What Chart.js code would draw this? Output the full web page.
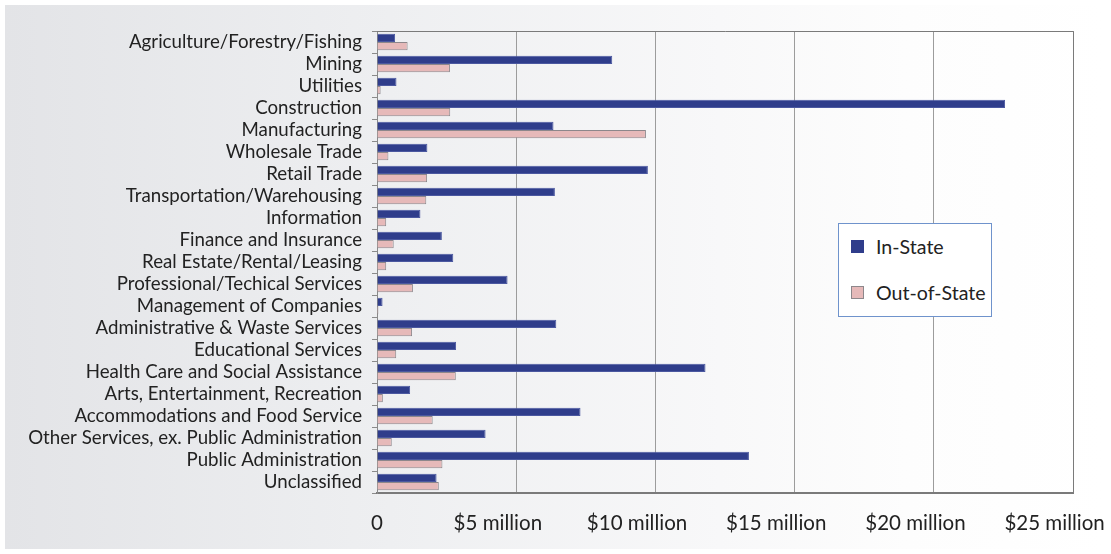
<!DOCTYPE html>
<html>
<head>
<meta charset="utf-8">
<script src="https://cdn.jsdelivr.net/npm/chart.js@4"></script>
<style>
  html, body { margin: 0; padding: 0; background: #fff; }
  #wrap { position: relative; width: 1111px; height: 554px; }
  #panel {
    position: absolute; left: 5px; top: 5px; width: 1100px; height: 544px;
    background: linear-gradient(to right, #e3e4e7 0%, #eeeff1 35%, #f8f8f9 65%, #fdfdfd 82%, #ffffff 100%);
  }
  canvas { position: absolute; left: 0; top: 0; }
  #legend {
    position: absolute; left: 838px; top: 223px; width: 154px; height: 94px;
    background: #fff; border: 1px solid #6f93cc; box-sizing: border-box;
    font-family: Lato, "Open Sans", sans-serif; font-size: 19.6px; color: #222;
  }
  #legend .item { position: absolute; left: 12px; display: flex; align-items: center; }
  #legend .sw { width: 13px; height: 13px; box-sizing: border-box; margin-right: 12px; }
</style>
</head>
<body>
<div id="wrap">
  <div id="panel"></div>
  <canvas id="barChart" width="1111" height="554"></canvas>
  <div id="legend"></div>
</div>
<script>
var industries = [
  'Agriculture/Forestry/Fishing',
  'Mining',
  'Utilities',
  'Construction',
  'Manufacturing',
  'Wholesale Trade',
  'Retail Trade',
  'Transportation/Warehousing',
  'Information',
  'Finance and Insurance',
  'Real Estate/Rental/Leasing',
  'Professional/Techical Services',
  'Management of Companies',
  'Administrative & Waste Services',
  'Educational Services',
  'Health Care and Social Assistance',
  'Arts, Entertainment, Recreation',
  'Accommodations and Food Service',
  'Other Services, ex. Public Administration',
  'Public Administration',
  'Unclassified'
];
// dollars, in millions
var inState = [0.65, 8.45, 0.70, 22.56, 6.34, 1.81, 9.73, 6.39, 1.56, 2.33, 2.74,
  4.69, 0.20, 6.44, 2.84, 11.80, 1.19, 7.31, 3.90, 13.36, 2.14];
var outOfState = [1.10, 2.62, 0.13, 2.63, 9.66, 0.41, 1.80, 1.77, 0.33, 0.60, 0.33,
  1.29, 0.05, 1.26, 0.69, 2.83, 0.21, 2.00, 0.53, 2.35, 2.22];
var xTicks = [0, 5, 10, 15, 20, 25];

var fontFamily = 'Lato, "Open Sans", sans-serif';
var xFont = { family: fontFamily, size: 20.5 };

// the "$N million" labels sit a little left of their gridline;
// trailing spaces shift the centred text by about 19px
var measure = document.createElement('canvas').getContext('2d');
measure.font = xFont.size + 'px ' + fontFamily;
var spaceW = measure.measureText(' ').width || 5;
var trail = new Array(Math.max(1, Math.round(38 / spaceW)) + 1).join(' ');

// frame around the plot area (top and right edges)
var frame = {
  id: 'frame',
  afterDraw: function (chart) {
    var a = chart.chartArea, c = chart.ctx;
    c.save();
    c.strokeStyle = '#7a7a7a';
    c.lineWidth = 1;
    c.beginPath();
    c.moveTo(a.left, a.top + 0.5);
    c.lineTo(a.right + 0.5, a.top + 0.5);
    c.lineTo(a.right + 0.5, a.bottom);
    c.stroke();
    c.restore();
  }
};

var ctx = document.getElementById('barChart');
var barChart = new Chart(ctx, {
  type: 'bar',
  data: {
    labels: industries,
    datasets: [{
      label: 'In-State',
      data: inState,
      backgroundColor: '#2f3d8b',
      borderColor: '#4b58a0',
      borderWidth: 1
    }, {
      label: 'Out-of-State',
      data: outOfState,
      backgroundColor: '#e6b9b9',
      borderColor: '#8d878b',
      borderWidth: 1
    }]
  },
  options: {
    indexAxis: 'y',
    responsive: false,
    animation: false,
    events: [],
    categoryPercentage: 0.75,
    barPercentage: 1.0,
    layout: { padding: { left: 0, top: 31, right: 38, bottom: 0 } },
    plugins: {
      legend: { display: false },
      tooltip: { enabled: false }
    },
    scales: {
      x: {
        min: 0,
        max: 25,
        afterBuildTicks: function (scale) {
          scale.ticks = xTicks.map(function (v) { return { value: v }; });
        },
        afterFit: function (scale) {
          scale.height = 61;
          scale.paddingLeft = 0;
          scale.paddingRight = 0;
        },
        ticks: {
          padding: 18,
          color: '#222',
          font: xFont,
          autoSkip: false,
          maxRotation: 0,
          minRotation: 0,
          callback: function (v) { return v === 0 ? '0' : '$' + v + ' million' + trail; }
        },
        grid: { color: '#9c9c9c', lineWidth: 1, drawTicks: false },
        border: { color: '#7a7a7a', width: 2 }
      },
      y: {
        afterFit: function (scale) { scale.width = 377; },
        ticks: {
          padding: 10,
          color: '#222',
          autoSkip: false,
          font: { family: fontFamily, size: 18.7 }
        },
        grid: {
          offset: true,
          drawOnChartArea: false,
          drawTicks: true,
          tickLength: 5,
          tickColor: '#8a8a8a'
        },
        border: { color: '#8a8a8a', width: 1 }
      }
    }
  },
  plugins: [frame]
});

// legend box inside the plot area
var legend = document.getElementById('legend');
barChart.data.datasets.forEach(function (ds, i) {
  var item = document.createElement('div');
  item.className = 'item';
  item.style.top = (i === 0 ? 11 : 57) + 'px';
  var sw = document.createElement('span');
  sw.className = 'sw';
  sw.style.background = ds.backgroundColor;
  sw.style.border = '1px solid ' + (i === 0 ? ds.backgroundColor : ds.borderColor);
  var txt = document.createElement('span');
  txt.textContent = ds.label;
  item.appendChild(sw);
  item.appendChild(txt);
  legend.appendChild(item);
});
</script>
</body>
</html>
